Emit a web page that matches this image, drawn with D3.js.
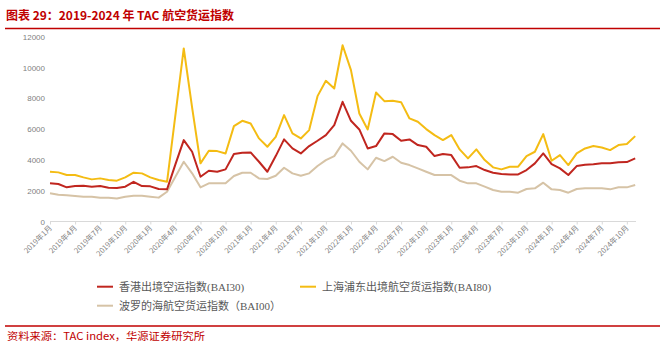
<!DOCTYPE html>
<html><head><meta charset="utf-8">
<script src="https://cdn.jsdelivr.net/npm/d3@7"></script>
<style>
html,body{margin:0;padding:0;background:#fff;}
svg{display:block;}
</style></head>
<body>
<svg id="c" width="660" height="348"></svg>
<script>
// ---- data ----
const months = d3.timeMonths(new Date(2019,0,1), new Date(2024,11,1)); // 2019-01 .. 2024-11
const tickLabels = ["2019年1月","2019年4月","2019年7月","2019年10月","2020年1月","2020年4月","2020年7月","2020年10月",
  "2021年1月","2021年4月","2021年7月","2021年10月","2022年1月","2022年4月","2022年7月","2022年10月",
  "2023年1月","2023年4月","2023年7月","2023年10月","2024年1月","2024年4月","2024年7月","2024年10月"];
const yTicks = [0,2000,4000,6000,8000,10000,12000];

const bai30 = [2477,2434,2218,2303,2325,2260,2303,2195,2174,2260,
  2580,2303,2282,2108,2087,3710,5286,4529,2906,3295,
  3230,3385,4378,4464,4486,3880,3230,4248,5330,4745,
  4420,4897,5243,5610,6259,7772,6540,5978,4745,4897,
  5720,5675,5243,5330,4962,4853,4248,4378,4313,3493,
  3515,3600,3340,3165,3081,3060,3060,3340,3775,4420,
  3730,3450,3016,3600,3687,3710,3775,3775,3840,3860,4099];
const bai80 = [3230,3190,3016,3016,2866,2735,2800,2690,2650,2866,
  3170,3125,2866,2690,2580,6908,11234,7400,3775,4593,
  4571,4420,6194,6540,6367,5395,4853,5500,6908,5720,
  5395,5935,8140,9134,8637,11448,9826,7016,5978,8378,
  7815,7837,7750,6692,6475,5999,5610,5286,5610,4682,
  4099,4682,3989,3515,3385,3558,3558,4248,4529,5675,
  3945,4313,3665,4420,4745,4897,4810,4637,4962,5027,5545];
const bai00 = [1829,1740,1700,1654,1610,1610,1545,1545,1500,1610,
  1675,1675,1610,1550,1935,2900,3880,3126,2218,2477,
  2477,2477,2951,3165,3165,2800,2760,2973,3493,3126,
  2973,3126,3600,3989,4248,5070,4593,3880,3385,4140,
  3924,4205,3815,3665,3450,3230,3016,3016,3016,2650,
  2477,2477,2260,2043,1935,1935,1870,2108,2152,2520,
  2087,2043,1870,2108,2152,2152,2152,2087,2218,2218,2368];

const seriesNames = ["香港出境空运指数(BAI30)","上海浦东出境航空货运指数(BAI80)","波罗的海航空货运指数（BAI00）"];
const titleText = "图表 29：2019-2024 年 TAC 航空货运指数";
const sourceText = "资料来源：TAC index，华源证券研究所";

// ---- drawing ----
const RED = "#C00000";
const colors = ["#C0261F", "#F4BC13", "#D6C3A6"];
const svg = d3.select("#c");

const label = d => (d.getFullYear()) + "年" + (d.getMonth()+1) + "月";
const cats = months.map(label);

const x = d3.scalePoint().domain(cats).range([50, 635.2]);
const y = d3.scaleLinear().domain([0, 12000]).range([221.5, 36.7]);

// title
svg.append("text").attr("x", 6).attr("y", 19.5)
  .attr("font-family", "'Noto Sans CJK SC', sans-serif").attr("font-weight", "bold")
  .attr("font-size", 12).attr("fill", RED).attr("textLength", 228).attr("lengthAdjust","spacingAndGlyphs")
  .text(titleText);
svg.append("line").attr("x1", 5).attr("x2", 660).attr("y1", 28.5).attr("y2", 28.5)
  .attr("stroke", RED).attr("stroke-width", 1.3);

// y axis (labels only)
const yAxis = d3.axisLeft(y).tickValues(yTicks).tickSize(0).tickPadding(0).tickFormat(d3.format("d"));
const gy = svg.append("g").attr("transform", "translate(45,0)").call(yAxis);
gy.select(".domain").remove();
gy.selectAll("text").attr("font-family", "'Liberation Sans', Arial, sans-serif").attr("font-size", 8).attr("fill", "#7f7f7f");

// x axis
const xAxis = d3.axisBottom(x).tickValues(tickLabels).tickSize(3).tickSizeOuter(0);
const gx = svg.append("g").attr("transform", "translate(0,221.5)").call(xAxis);
gx.select(".domain").attr("stroke", "#d9d9d9").attr("d", "M50,0H636");
gx.selectAll(".tick line").attr("stroke", "#d9d9d9");
gx.selectAll("text").attr("font-family", "'Noto Sans CJK SC', sans-serif").attr("font-size", 7.5).attr("fill", "#7f7f7f")
  .attr("text-anchor", "end").attr("dy", 0).attr("y", 0)
  .attr("transform", "translate(2,7) rotate(-45)");

// lines
const all = [bai30, bai80, bai00];
const line = d3.line().x((d, i) => x(cats[i])).y(d => y(d));
[2, 0, 1].forEach(k => {
  svg.append("path").datum(all[k]).attr("d", line).attr("fill", "none")
    .attr("stroke", colors[k]).attr("stroke-width", 2).attr("stroke-linejoin", "round");
});

// legend
const legendPos = [[97, 286.7], [300, 286.7], [97, 305.7]];
seriesNames.forEach((n, k) => {
  const [lx, ly] = legendPos[k];
  svg.append("line").attr("x1", lx).attr("x2", lx + 16).attr("y1", ly).attr("y2", ly)
    .attr("stroke", colors[k]).attr("stroke-width", 2);
  svg.append("text").attr("x", lx + 22).attr("y", ly + 4)
    .attr("font-family", "'Liberation Serif', 'Noto Sans CJK SC', serif").attr("font-size", 11)
    .attr("fill", "#595959").text(n);
});

// footer
svg.append("line").attr("x1", 5).attr("x2", 660).attr("y1", 326).attr("y2", 326)
  .attr("stroke", RED).attr("stroke-width", 1.3);
svg.append("text").attr("x", 7).attr("y", 340)
  .attr("font-family", "'Noto Sans CJK SC', sans-serif").attr("font-size", 10.5)
  .attr("fill", RED).attr("textLength", 198).attr("lengthAdjust","spacingAndGlyphs")
  .text(sourceText);
</script>
</body></html>
